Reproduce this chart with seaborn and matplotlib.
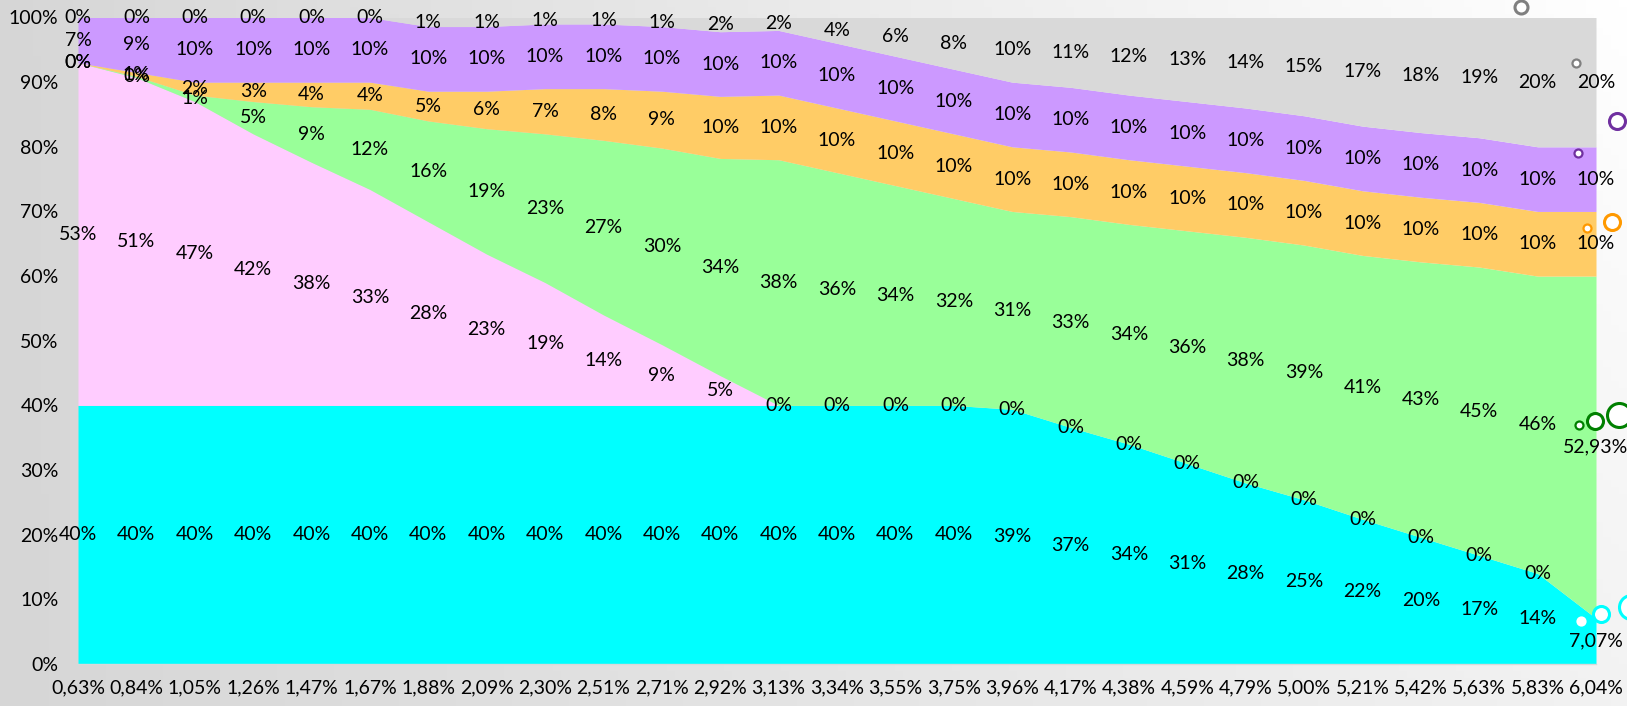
import numpy as np
import pandas as pd
import seaborn as sns
import matplotlib.pyplot as plt

# categories (x axis)
rates = ["0,63%", "0,84%", "1,05%", "1,26%", "1,47%", "1,67%", "1,88%", "2,09%",
         "2,30%", "2,51%", "2,71%", "2,92%", "3,13%", "3,34%", "3,55%", "3,75%",
         "3,96%", "4,17%", "4,38%", "4,59%", "4,79%", "5,00%", "5,21%", "5,42%",
         "5,63%", "5,83%", "6,04%"]

# stacked series, bottom to top (values in %)
cyan = [40, 40, 40, 40, 40, 40, 40, 40, 40, 40, 40, 40, 40, 40, 40, 40,
        39.4, 36.6, 34, 31, 28, 25.4, 22.4, 19.6, 16.8, 14, 7.07]
pink = [53, 50.7, 47, 42, 37.6, 33.4, 28.4, 23.4, 19, 14, 9.4, 4.6, 0, 0, 0, 0,
        0, 0, 0, 0, 0, 0, 0, 0, 0, 0, 0]
green = [0, 0.2, 1, 5, 8.6, 12.4, 15.6, 19.4, 23, 27, 30.4, 33.6, 38, 36, 34, 32,
         30.6, 32.6, 34, 36, 38, 39.4, 40.8, 42.6, 44.6, 46, 52.93]
orange = [0, 0.6, 2, 3, 3.8, 4.2, 4.6, 5.8, 7, 8, 8.8, 9.6, 10, 10, 10, 10,
          10, 10, 10, 10, 10, 10, 10, 10, 10, 10, 10]
purple = [7, 8.5, 10, 10, 10, 10, 10, 10, 10, 10, 10, 10, 10, 10, 10, 10,
          10, 10, 10, 10, 10, 10, 10, 10, 10, 10, 10]
gray = [0, 0, 0, 0, 0, 0, 1.4, 1.4, 1, 1, 1.4, 2.2, 2, 4, 6, 8,
        10, 10.8, 12, 13, 14, 15.2, 16.8, 17.8, 18.6, 20, 20]

# loose circle markers near the last category (x in category units, y in %)
mark_x = [24.72, 25.66, 25.69, 26.36, 25.84, 26.27, 25.71, 25.98, 26.39, 25.74, 26.09, 26.6]
mark_y = [101.6, 93.0, 79.0, 84.0, 67.4, 68.4, 37.0, 37.6, 38.5, 6.7, 7.7, 8.8]
mark_series = ["gray", "gray", "purple", "purple", "orange", "orange",
               "green", "green", "green", "cyan", "cyan", "cyan"]
mark_rank = [2, 1, 1, 2, 1, 2, 1, 2, 3, 1, 2, 3]

SERIES = ["cyan", "pink", "green", "orange", "purple", "gray"]
FILL = {"cyan": "#00FFFF", "pink": "#FFCCFF", "green": "#99FF99",
        "orange": "#FFCC66", "purple": "#CC99FF", "gray": "#D9D9D9"}
EDGE = {"gray": "#808080", "purple": "#7030A0", "orange": "#FF9900",
        "green": "#008000", "cyan": "#00FFFF"}

df = pd.DataFrame({"cyan": cyan, "pink": pink, "green": green,
                   "orange": orange, "purple": purple, "gray": gray})
share = df.div(df.sum(axis=1), axis=0) * 100

sns.set_style("white")
plt.rcParams["font.family"] = ["Lato", "DejaVu Sans"]
FS = 14

W, H = 1627, 706
fig = plt.figure(figsize=(W / 100, H / 100), dpi=100)

# slide-like grey gradient behind the chart
bg = fig.add_axes([0, 0, 1, 1], zorder=-5)
gx = np.linspace(0, 1, 200)[None, :]
gy = np.linspace(0, 1, 100)[:, None]
lum = 0.84 + 0.11 * gx + 0.05 * (1 - gy) * gx
bg.imshow(np.dstack([lum, lum, lum]), aspect="auto", extent=[0, 1, 0, 1])
bg.set_axis_off()

left, right = 78, 1596
top, bottom = 17.5, 664
ax = fig.add_axes([left / W, 1 - bottom / H, (right - left) / W, (bottom - top) / H])
ax.set_facecolor("none")

x = np.arange(len(rates))
ax.stackplot(x, *[share[s] for s in SERIES], colors=[FILL[s] for s in SERIES],
             linewidth=0)

# data labels, centred in each band
last = len(rates) - 1
base = np.zeros(len(rates))
for s in SERIES:
    vals = share[s].values
    for j in range(len(rates)):
        raw = df[s].iloc[j]
        if j == last:
            if raw == 0:
                continue
            txt = f"{raw:.2f}".rstrip("0").rstrip(".").replace(".", ",") + "%"
        else:
            txt = f"{int(raw + 0.5)}%"
        ax.text(j, base[j] + vals[j] / 2, txt, ha="center", va="center",
                fontsize=FS, color="black", zorder=5, clip_on=False)
    base += vals

# circle markers
for mx, my, ms, mr in zip(mark_x, mark_y, mark_series, mark_rank):
    d = {1: 8, 2: 16, 3: 24}[mr]
    if ms == "gray" and mr == 2:
        d = 13
    edge = "white" if (ms == "cyan" and mr == 1) else EDGE[ms]
    ax.scatter(mx, my, s=(d * 0.72) ** 2, facecolor="white", edgecolor=edge,
               linewidth=2.2 if mr > 1 else 1.6, zorder=6, clip_on=False)

ax.set_xlim(0, last)
ax.set_ylim(0, 100)
ax.set_xticks(x)
ax.set_xticklabels(rates)
ax.set_yticks(range(0, 101, 10))
ax.set_yticklabels([f"{v}%" for v in range(0, 101, 10)])
ax.tick_params(axis="x", length=3, width=1, color="#D0D0D0", pad=8,
               labelsize=FS, labelcolor="black")
ax.tick_params(axis="y", length=0, pad=14, labelsize=FS, labelcolor="black")
ax.set_xlabel("")
ax.set_ylabel("")
sns.despine(ax=ax, left=True, top=True, right=True)
ax.spines["bottom"].set_color("#D9D9D9")
ax.spines["bottom"].set_linewidth(1)

fig.savefig("out.png", dpi=100)
